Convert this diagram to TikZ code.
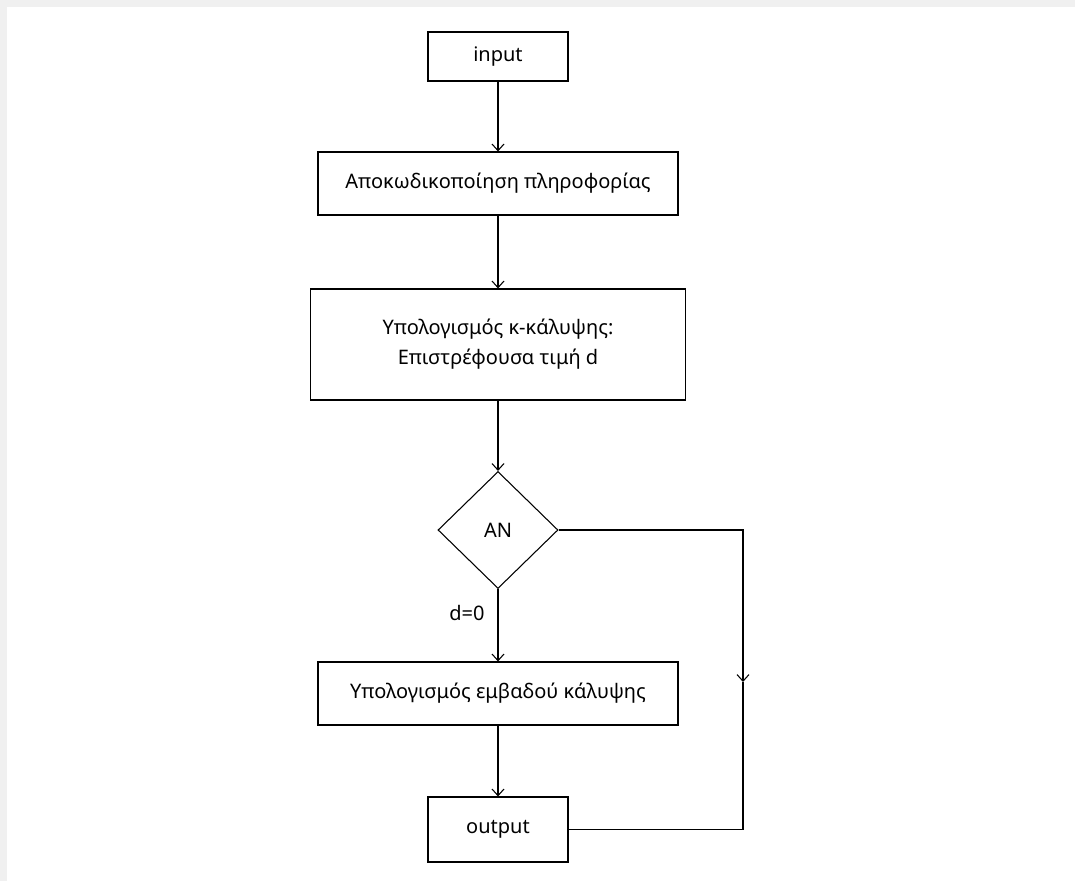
\documentclass[tikz,border=0pt]{standalone}
\usepackage{fontspec}
\setmainfont{Noto Sans}
\usepackage{tikz}
\usetikzlibrary{shapes.geometric, arrows.meta}

\begin{document}
\begin{tikzpicture}[x=0.75pt,y=0.75pt,yscale=-1,xscale=1,
    box/.style={draw, line width=0.8pt, inner sep=0pt, font=\fontsize{15}{22.5}\selectfont, align=center},
    test/.style={draw, diamond, line width=0.8pt, inner sep=0pt, minimum width=120*0.75pt, minimum height=117*0.75pt, font=\fontsize{15}{22.5}\selectfont},
    link/.style={line width=0.8pt, -{Straight Barb[length=5pt,width=9pt]}},
    plain/.style={line width=0.8pt}]
        \useasboundingbox (0,0) rectangle (1075,881);
        %Background
        \fill[gray!12] (0,0) rectangle (1075,881);
        \fill[white] (7,7) rectangle (1075,881);

        % Text Node
        \node[box, minimum width=140*0.75pt, minimum height=49*0.75pt] (input) at (498,56.5) {input};
        % Text Node
        \node[box, minimum width=360*0.75pt, minimum height=63*0.75pt] (decode) at (498,183.5) {Αποκωδικοποίηση πληροφορίας};
        % Text Node
        \node[box, minimum width=375*0.75pt, minimum height=111*0.75pt] (kcover) at (498,344.5) {Υπολογισμός κ-κάλυψης:\\Επιστρέφουσα τιμή d};
        % Shape: Diamond
        \node[test] (AN) at (498,530) {AN};
        % Text Node
        \node[box, minimum width=360*0.75pt, minimum height=63*0.75pt] (area) at (498,693.5) {Υπολογισμός εμβαδού κάλυψης};
        % Text Node
        \node[box, minimum width=140*0.75pt, minimum height=65*0.75pt] (output) at (498,829.5) {output};
        % Text Node
        \node[font=\fontsize{15}{18}\selectfont] (cond) at (467,613) {d=0};

        \coordinate (loop) at (743,682);

        %Connectors
        \draw[link] (input) -- (decode);
        \draw[link] (decode) -- (kcover);
        \draw[link] (kcover) -- (AN);
        \draw[link] (AN) -- (area);
        \draw[link] (area) -- (output);
        \draw[link] (AN.east) -| (loop);
        \draw[plain] (loop) |- (output.east);

\end{tikzpicture}
\end{document}
